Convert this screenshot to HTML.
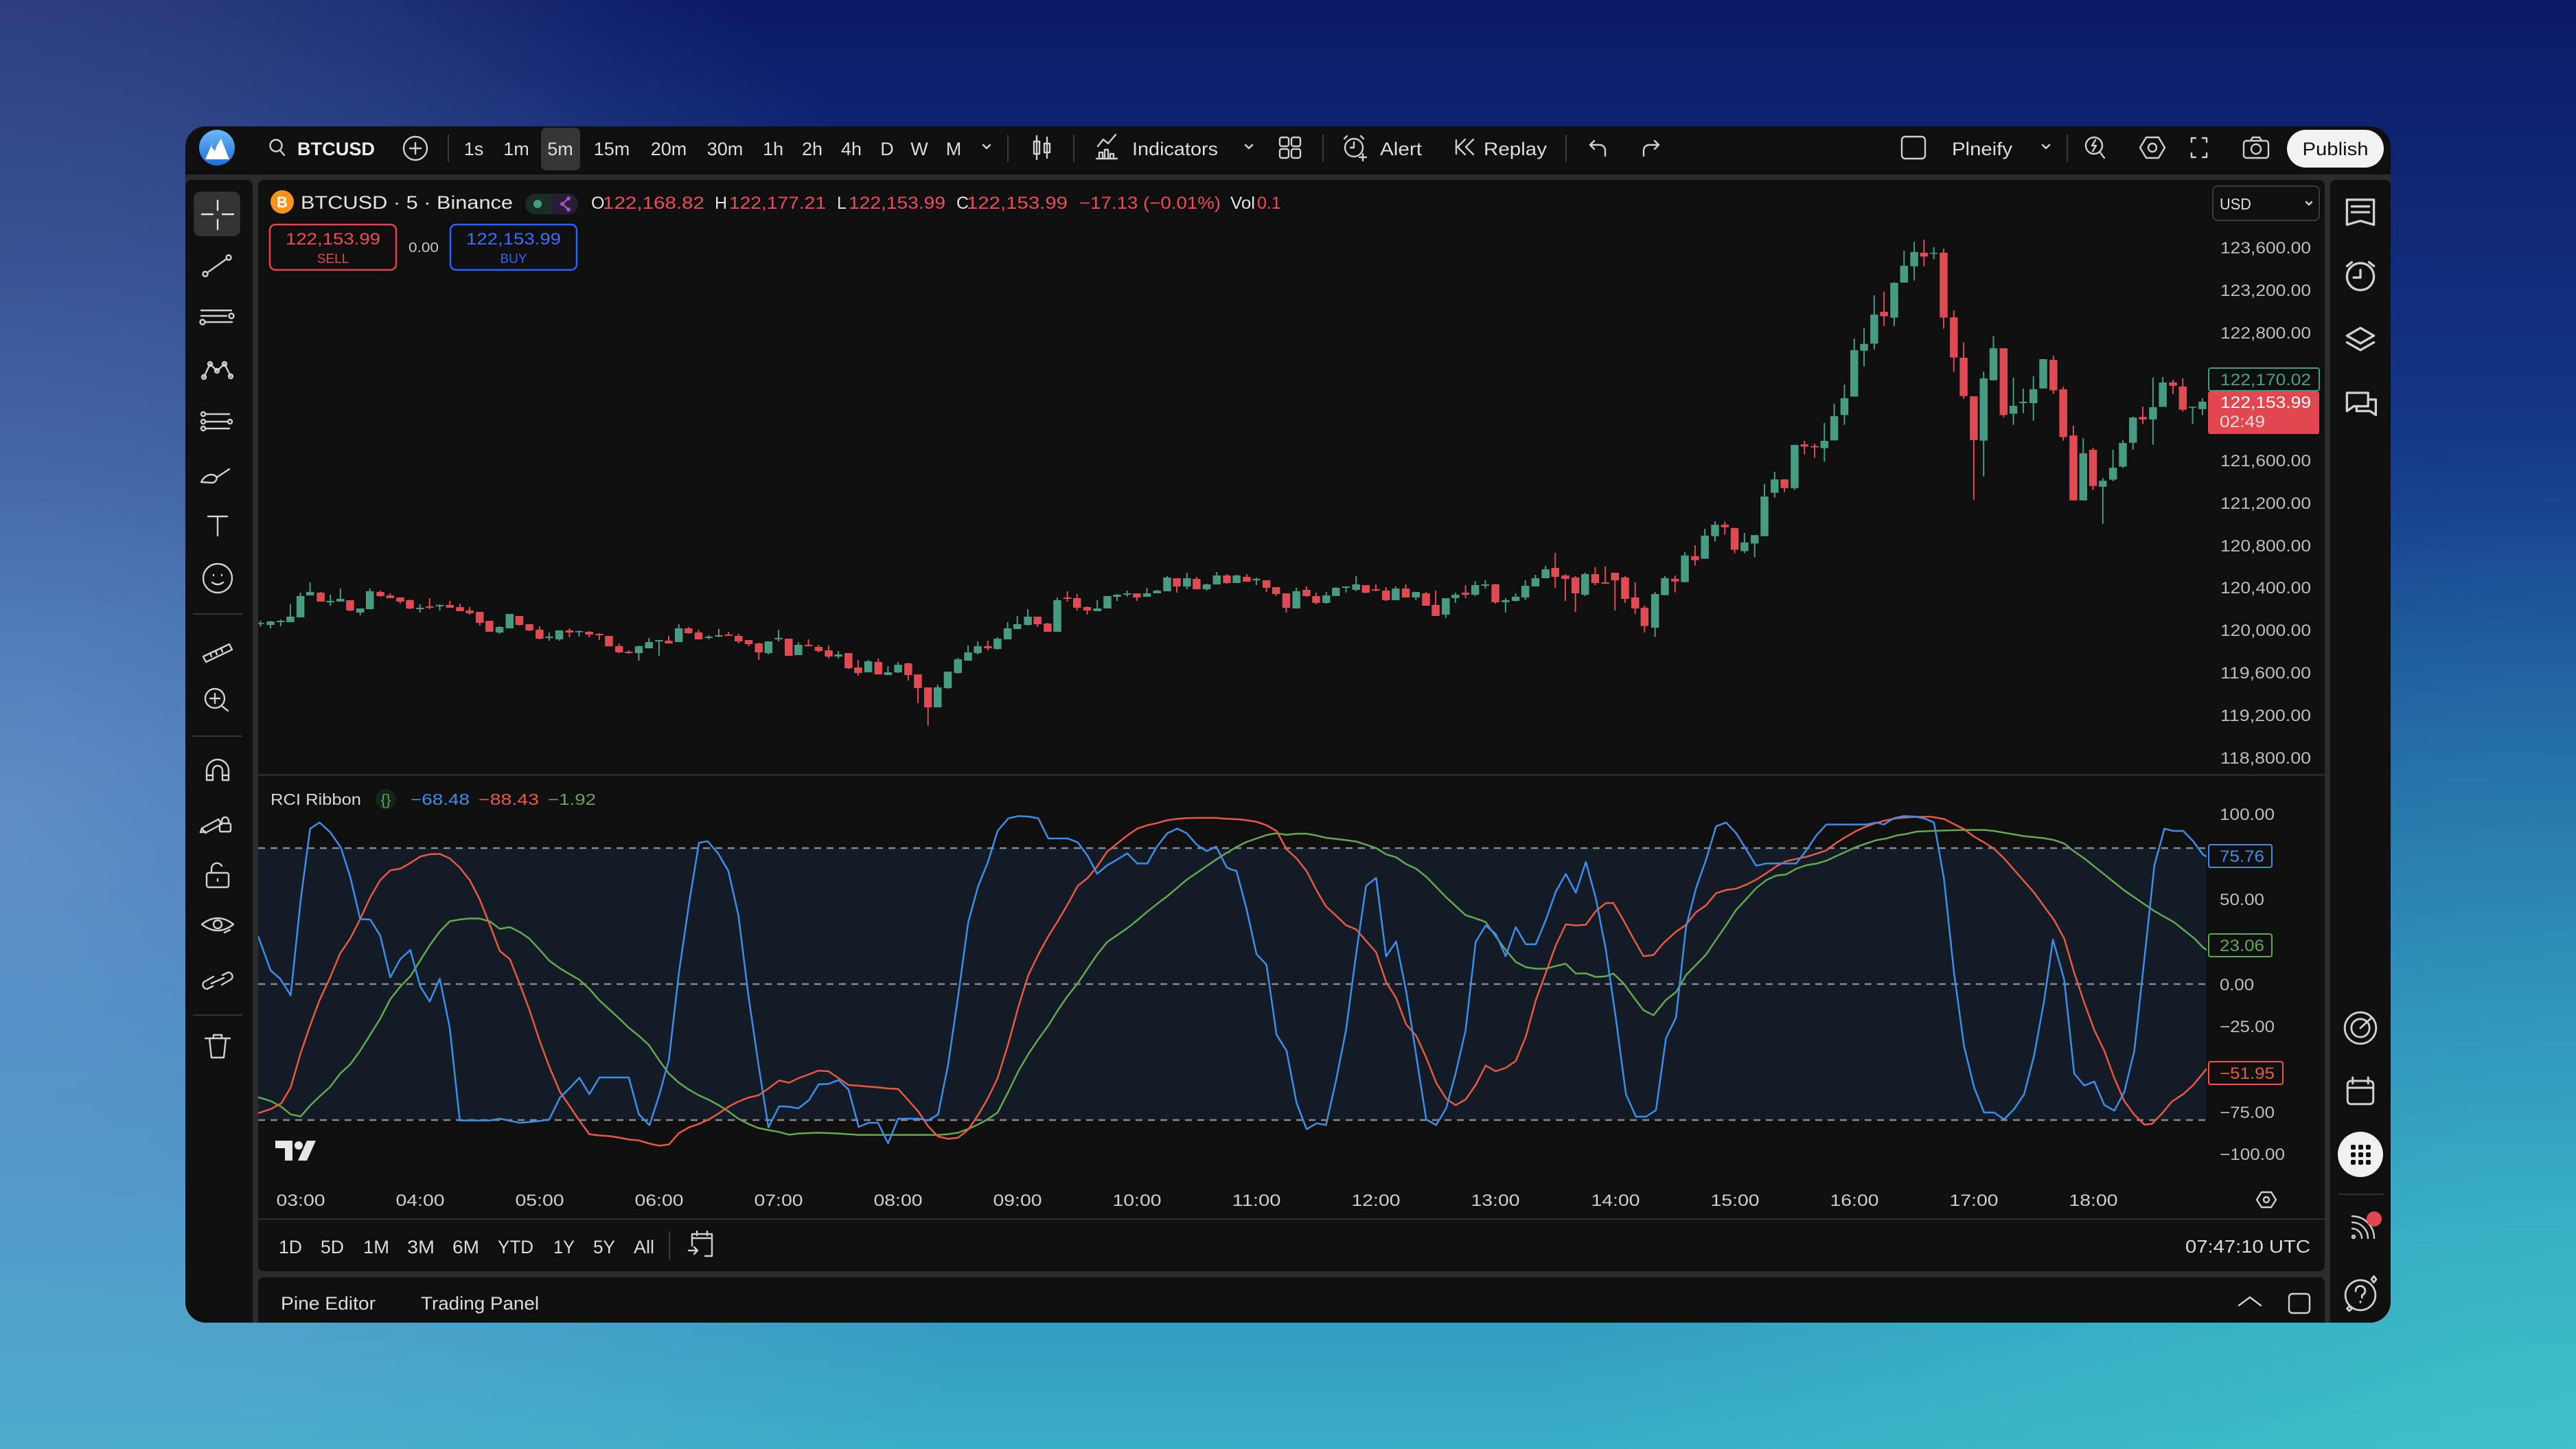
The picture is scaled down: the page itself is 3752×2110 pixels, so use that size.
<!DOCTYPE html>
<html><head><meta charset="utf-8"><style>
html,body{margin:0;padding:0;width:3752px;height:2110px;overflow:hidden;background:#1a3f8e;}
svg{display:block}
text{font-family:"Liberation Sans",sans-serif;}
.ic{fill:none;stroke:#d0d0d0;stroke-width:2.4;stroke-linecap:round;stroke-linejoin:round}
.ns{vector-effect:non-scaling-stroke;fill:none}
</style></head><body>
<svg width="3752" height="2110" viewBox="0 0 3752 2110" xmlns="http://www.w3.org/2000/svg">
<defs>
<linearGradient id="bg" x1="0" y1="0" x2="0" y2="1">
<stop offset="0" stop-color="#0b1a66"/><stop offset="0.35" stop-color="#163c8b"/><stop offset="0.7" stop-color="#2775b3"/><stop offset="1" stop-color="#39adc6"/>
</linearGradient>
<radialGradient id="bgl" cx="0" cy="1200" r="1600" gradientUnits="userSpaceOnUse"><stop offset="0" stop-color="#8aaee0" stop-opacity="0.6"/><stop offset="1" stop-color="#8aaee0" stop-opacity="0"/></radialGradient>
<radialGradient id="bgtl" cx="0" cy="0" r="900" gradientUnits="userSpaceOnUse"><stop offset="0" stop-color="#4a5a8c" stop-opacity="0.35"/><stop offset="1" stop-color="#4a5a8c" stop-opacity="0"/></radialGradient>
<radialGradient id="bgr" cx="3752" cy="2110" r="1500" gradientUnits="userSpaceOnUse"><stop offset="0" stop-color="#40cccb" stop-opacity="0.65"/><stop offset="1" stop-color="#40cccb" stop-opacity="0"/></radialGradient>
<linearGradient id="logo" x1="0" y1="0" x2="0" y2="1"><stop offset="0" stop-color="#6cb8f5"/><stop offset="1" stop-color="#1e6fd8"/></linearGradient>
<clipPath id="win"><rect x="270" y="184" width="3212" height="1742" rx="30"/></clipPath>
<clipPath id="plot"><rect x="376" y="262" width="2838" height="866"/></clipPath>
<clipPath id="iplot"><rect x="376" y="1130" width="2838" height="582"/></clipPath>
</defs>

<rect width="3752" height="2110" fill="url(#bg)"/>
<rect width="3752" height="2110" fill="url(#bgl)"/>
<rect width="3752" height="2110" fill="url(#bgtl)"/>
<rect width="3752" height="2110" fill="url(#bgr)"/>

<g clip-path="url(#win)">
<rect x="270" y="184" width="3212" height="1742" fill="#2c2c2c"/>
<rect x="270" y="184" width="3212" height="70" fill="#0f0f0f"/>
<rect x="270" y="262" width="98" height="1700" rx="8" fill="#0f0f0f"/>
<rect x="376" y="262" width="3010" height="1589" rx="8" fill="#0f0f0f"/>
<rect x="376" y="1860" width="3010" height="100" rx="8" fill="#0f0f0f"/>
<rect x="3394" y="262" width="88" height="1700" rx="8" fill="#0f0f0f"/>
</g>

<!-- TOP TOOLBAR -->
<circle cx="316" cy="215" r="26" fill="url(#logo)"/>
<polygon points="299,232 311,205 316,212 322,202 334,232" fill="#ffffff"/>
<polygon points="311,205 316,212 313,220 308,214" fill="#4a98e8"/>
<circle cx="402" cy="212" r="8.5" class="ic" stroke="#e6e6e6"/>
<path d="M408 219L414 226" class="ic" stroke="#e6e6e6"/>
<text x="433" y="226" font-size="27" font-weight="bold" fill="#ececec" textLength="113" lengthAdjust="spacingAndGlyphs">BTCUSD</text>
<circle cx="605" cy="216" r="17" class="ic"/>
<path d="M597 216h16M605 208v16" class="ic"/>
<g stroke="#3a3a3a" stroke-width="2">
<path d="M653 196v40M1468 196v40M1564 196v40M1927 196v40M2281 196v40M3011 196v40"/>
</g>
<rect x="788" y="186" width="57" height="62" rx="8" fill="#363636"/>
<g font-size="27" fill="#dcdcdc" text-anchor="middle">
<text x="690" y="226">1s</text><text x="752" y="226">1m</text><text x="816" y="226">5m</text>
<text x="891" y="226">15m</text><text x="974" y="226">20m</text><text x="1056" y="226">30m</text>
<text x="1126" y="226">1h</text><text x="1183" y="226">2h</text><text x="1240" y="226">4h</text>
<text x="1292" y="226">D</text><text x="1339" y="226">W</text><text x="1389" y="226">M</text>
</g>
<path d="M1432 211l5 5l5-5M1814 211l5 5l5-5M2975 211l5 5l5-5" class="ic"/>
<path d="M1510 198v34M1525 200v30" class="ic"/>
<rect x="1506" y="206" width="8" height="18" class="ic" fill="#0f0f0f"/>
<rect x="1521" y="209" width="8" height="13" class="ic" fill="#0f0f0f"/>
<path d="M1597 231h30M1601 231v-9h5v9M1609 231v-13h5v13M1617 231v-7h5v7M1599 213l8-10l7 6l11-13" class="ic"/>
<text x="1649" y="226" font-size="27" fill="#dcdcdc" textLength="125" lengthAdjust="spacingAndGlyphs">Indicators</text>
<rect x="1864" y="200" width="13" height="13" rx="3" class="ic"/><rect x="1881" y="200" width="13" height="13" rx="3" class="ic"/>
<rect x="1864" y="217" width="13" height="13" rx="3" class="ic"/><rect x="1881" y="217" width="13" height="13" rx="3" class="ic"/>
<circle cx="1972" cy="215" r="13" class="ic"/>
<path d="M1972 207v8h-5M1958 202l4-4M1986 202l-4-4M1985 224v10M1980 229h10" class="ic"/>
<text x="2010" y="226" font-size="27" fill="#dcdcdc" textLength="61" lengthAdjust="spacingAndGlyphs">Alert</text>
<path d="M2134 203l-11 11l11 11M2146 203l-11 11l11 11M2121 204v20" class="ic"/>
<text x="2161" y="226" font-size="27" fill="#dcdcdc" textLength="92" lengthAdjust="spacingAndGlyphs">Replay</text>
<path d="M2322 205l-6 6l6 6M2316 211h14a8 8 0 0 1 8 8v8" class="ic"/>
<path d="M2410 205l6 6l-6 6M2416 211h-14a8 8 0 0 0 -8 8v8" class="ic" stroke="#666"/>
<rect x="2770" y="199" width="34" height="32" rx="5" class="ic"/>
<text x="2843" y="226" font-size="27" fill="#dcdcdc" textLength="88" lengthAdjust="spacingAndGlyphs">Plneify</text>
<circle cx="3050" cy="212" r="12" class="ic"/><path d="M3058 221l7 9M3052 204l-5 8h6l-5 8" class="ic"/>
<polygon points="3126,200 3144,200 3153,215 3144,230 3126,230 3117,215" class="ic"/><circle cx="3135" cy="215" r="6" class="ic"/>
<path d="M3192 207v-6h6M3214 207v-6h-6M3192 223v6h6M3214 223v6h-6" class="ic"/>
<rect x="3268" y="205" width="36" height="25" rx="4" class="ic"/><path d="M3278 205l3-5h10l3 5" class="ic"/><circle cx="3286" cy="217" r="7" class="ic"/>
<rect x="3331" y="189" width="141" height="55" rx="27.5" fill="#f2f2f2"/>
<text x="3401.5" y="226" font-size="27" fill="#111" text-anchor="middle" textLength="96" lengthAdjust="spacingAndGlyphs">Publish</text>

<!-- LEFT TOOLBAR -->
<rect x="282" y="279" width="68" height="65" rx="10" fill="#333333"/>
<g class="ic">
<path d="M294 312h16M324 312h16M317 292v14M317 320v14" stroke="#e6e6e6"/>
<path d="M302 397L330 377"/><circle cx="299" cy="399" r="3.5"/><circle cx="333" cy="375" r="3.5"/>
<path d="M293 452h44M293 460h37M300 469h38"/><circle cx="337" cy="460" r="3.5"/><circle cx="295" cy="469" r="3.5"/>
<path d="M297 549L306 530L316 540L327 530L336 548"/><circle cx="297" cy="549" r="3"/><circle cx="306" cy="530" r="3"/><circle cx="316" cy="540" r="3"/><circle cx="327" cy="530" r="3"/><circle cx="336" cy="548" r="3"/>
<path d="M300 603h34M300 614h32M300 624h34"/><circle cx="296" cy="603" r="3"/><circle cx="296" cy="614" r="3"/><circle cx="296" cy="624" r="3"/><circle cx="335" cy="614" r="3"/>
<path d="M293 702c5-10 15-14 22-8c2 4-2 9-6 9zM316 695l18-12"/>
<path d="M303 752h28M317 752v28"/>
<circle cx="317" cy="842" r="21"/><path d="M309 848q8 6 16 0M311 837v1M323 837v1"/>
<path d="M296 956L334 938L338 946L300 964ZM306 951l2 5M314 948l2 5M322 944l2 5"/>
<circle cx="313" cy="1017" r="14"/><path d="M323 1028l9 7M306 1017h14M313 1010v14"/>
<path d="M301 1136v-14a16 16 0 0 1 32 0v14h-9v-14a7 7 0 0 0-14 0v14zM301 1129h9M324 1129h9"/>
<path d="M294 1206l24-13l5 7l-24 13zM294 1206l-2 6l7-1"/><rect x="320" y="1199" width="16" height="12" rx="2"/><path d="M323 1199v-4a5 5 0 0 1 10 0v4"/>
<rect x="301" y="1271" width="32" height="21" rx="3"/><path d="M308 1271v-6a8 8 0 0 1 15-4M317 1280v3"/>
<path d="M294 1346q23-18 46 0q-23 18-46 0z"/><circle cx="317" cy="1346" r="6"/><path d="M327 1358l8-4"/>
<path d="M310 1436l-8 4a6 6 0 0 1-5-10l14-8M324 1420l8-4a6 6 0 0 1 5 10l-14 8M308 1432l18-8"/>
<path d="M299 1512h36M305 1512l3 28h18l3-28M311 1512v-5h12v5"/>
</g>
<g stroke="#333" stroke-width="2"><path d="M281 894h72M281 1072h72M281 1478h72"/></g>

<!-- RIGHT SIDEBAR -->
<g class="ic">
<g transform="translate(3438 309) scale(1.4) translate(-3438 -309)"><path d="M3424 296h28v26l-14-4l-14 4z M3429 303h18M3429 309h18"/></g>
<g transform="translate(3438 400) scale(1.4) translate(-3438 -400)"><circle cx="3438" cy="402" r="14"/><path d="M3438 395v8h-7M3424 391l5-4M3452 391l-5-4"/></g>
<g transform="translate(3438 493) scale(1.4) translate(-3438 -493)"><path d="M3424 490l14-8l14 8l-14 8zM3424 497l14 8l14-8"/></g>
<g transform="translate(3438 586) scale(1.4) translate(-3438 -586)"><path d="M3424 576h22v14h-15l-7 5zM3448 583h6v16l-6-4h-14v-5"/></g>
<g transform="translate(3438 1497) scale(1.2) translate(-3438 -1497)"><circle cx="3438" cy="1497" r="19"/><circle cx="3438" cy="1497" r="11"/><path d="M3438 1497l13-12"/></g>
<g transform="translate(3438 1589) scale(1.25) translate(-3438 -1589)"><rect x="3423" y="1577" width="30" height="27" rx="4"/><path d="M3429 1573v7M3447 1573v7M3423 1585h30"/></g>
<path d="M3426 1789a14 14 0 0 1 14 14M3426 1780a23 23 0 0 1 23 23M3426 1771a32 32 0 0 1 32 32"/><circle cx="3428" cy="1801" r="2"/>
<g transform="translate(3438 1886) scale(1.15) translate(-3438 -1886)"><circle cx="3438" cy="1886" r="19"/><path d="M3432 1881a6 6 0 1 1 8 5v3M3438 1894v1M3452 1866l3-4l3 4l-3 4zM3421 1903l3-3l3 3l-3 3z"/></g>
</g>
<circle cx="3458" cy="1775" r="11" fill="#e0474f"/>
<path d="M3406 1739h66" stroke="#333" stroke-width="2"/>
<circle cx="3438" cy="1681" r="33" fill="#f0f0f0"/>
<g fill="#111"><rect x="3424" y="1667" width="7" height="7" rx="2"/><rect x="3435" y="1667" width="7" height="7" rx="2"/><rect x="3446" y="1667" width="7" height="7" rx="2"/>
<rect x="3424" y="1678" width="7" height="7" rx="2"/><rect x="3435" y="1678" width="7" height="7" rx="2"/><rect x="3446" y="1678" width="7" height="7" rx="2"/>
<rect x="3424" y="1689" width="7" height="7" rx="2"/><rect x="3435" y="1689" width="7" height="7" rx="2"/><rect x="3446" y="1689" width="7" height="7" rx="2"/></g>

<!-- CHART HEADER -->
<circle cx="411" cy="294" r="17" fill="#f7931a"/>
<text x="411" y="302" font-size="22" font-weight="bold" fill="#fff" text-anchor="middle">B</text>
<text x="438" y="304" font-size="27" fill="#e4e4e4" textLength="309" lengthAdjust="spacingAndGlyphs">BTCUSD · 5 · Binance</text>
<rect x="765" y="282" width="77" height="30" rx="15" fill="#1b2b26"/>
<path d="M803 282h24a15 15 0 0 1 0 30h-24z" fill="#2a1c33"/>
<circle cx="783" cy="297" r="6" fill="#3fa086"/>
<path d="M828 289l-9 8l9 8" stroke="#a052d0" stroke-width="2.5" fill="none"/><circle cx="828" cy="289" r="3" fill="#a052d0"/><circle cx="819" cy="297" r="3" fill="#a052d0"/><circle cx="828" cy="305" r="3" fill="#a052d0"/>
<g font-size="25">
<text x="861" y="304" fill="#e4e4e4">O</text><text x="878" y="304" fill="#ee4b55" textLength="148" lengthAdjust="spacingAndGlyphs">122,168.82</text>
<text x="1041" y="304" fill="#e4e4e4">H</text><text x="1062" y="304" fill="#ee4b55" textLength="141" lengthAdjust="spacingAndGlyphs">122,177.21</text>
<text x="1219" y="304" fill="#e4e4e4">L</text><text x="1236" y="304" fill="#ee4b55" textLength="141" lengthAdjust="spacingAndGlyphs">122,153.99</text>
<text x="1393" y="304" fill="#e4e4e4">C</text><text x="1408" y="304" fill="#ee4b55" textLength="147" lengthAdjust="spacingAndGlyphs">122,153.99</text>
<text x="1572" y="304" fill="#ee4b55" textLength="206" lengthAdjust="spacingAndGlyphs">−17.13 (−0.01%)</text>
<text x="1792" y="304" fill="#e4e4e4" textLength="36" lengthAdjust="spacingAndGlyphs">Vol</text><text x="1831" y="304" fill="#ee4b55">0.1</text>
</g>
<rect x="393" y="327" width="184" height="66" rx="8" fill="none" stroke="#e0474f" stroke-width="2.5"/>
<text x="485" y="356" font-size="24" fill="#ee4b55" text-anchor="middle" textLength="138" lengthAdjust="spacingAndGlyphs">122,153.99</text>
<text x="485" y="383" font-size="19" fill="#e0474f" text-anchor="middle">SELL</text>
<text x="595" y="367" font-size="20" fill="#c4c4c4" textLength="44" lengthAdjust="spacingAndGlyphs">0.00</text>
<rect x="656" y="327" width="184" height="66" rx="8" fill="none" stroke="#2962ff" stroke-width="2.5"/>
<text x="748" y="356" font-size="24" fill="#3d6dff" text-anchor="middle" textLength="138" lengthAdjust="spacingAndGlyphs">122,153.99</text>
<text x="748" y="383" font-size="19" fill="#2f62ff" text-anchor="middle">BUY</text>

<!-- PRICE AXIS -->
<rect x="3223" y="271" width="155" height="50" rx="7" fill="none" stroke="#3a3a3a" stroke-width="2"/>
<text x="3233" y="305" font-size="23" fill="#dcdcdc" textLength="46" lengthAdjust="spacingAndGlyphs">USD</text>
<path d="M3359 294l4 4l4-4" class="ic"/>
<g font-size="24" fill="#bdbdbd" text-anchor="end">
<text x="3366" y="369" textLength="132" lengthAdjust="spacingAndGlyphs">123,600.00</text>
<text x="3366" y="431" textLength="132" lengthAdjust="spacingAndGlyphs">123,200.00</text>
<text x="3366" y="493" textLength="132" lengthAdjust="spacingAndGlyphs">122,800.00</text>
<text x="3366" y="679" textLength="132" lengthAdjust="spacingAndGlyphs">121,600.00</text>
<text x="3366" y="741" textLength="132" lengthAdjust="spacingAndGlyphs">121,200.00</text>
<text x="3366" y="803" textLength="132" lengthAdjust="spacingAndGlyphs">120,800.00</text>
<text x="3366" y="864" textLength="132" lengthAdjust="spacingAndGlyphs">120,400.00</text>
<text x="3366" y="926" textLength="132" lengthAdjust="spacingAndGlyphs">120,000.00</text>
<text x="3366" y="988" textLength="132" lengthAdjust="spacingAndGlyphs">119,600.00</text>
<text x="3366" y="1050" textLength="132" lengthAdjust="spacingAndGlyphs">119,200.00</text>
<text x="3366" y="1112" textLength="132" lengthAdjust="spacingAndGlyphs">118,800.00</text>
</g>
<rect x="3217" y="536" width="161" height="33" rx="3" fill="#0f0f0f" stroke="#3f9c84" stroke-width="2"/>
<text x="3366" y="561" font-size="24" fill="#46a088" text-anchor="end" textLength="132" lengthAdjust="spacingAndGlyphs">122,170.02</text>
<rect x="3216" y="570" width="162" height="62" rx="3" fill="#e0474f"/>
<text x="3366" y="594" font-size="24" fill="#ffffff" text-anchor="end" textLength="132" lengthAdjust="spacingAndGlyphs">122,153.99</text>
<text x="3233" y="622" font-size="24" fill="#f4dada" textLength="66" lengthAdjust="spacingAndGlyphs">02:49</text>

<!-- pane separator -->
<rect x="376" y="1127" width="3010" height="3" fill="#2a2a2a"/>

<!-- CANDLES -->
<g clip-path="url(#plot)">
<g transform="translate(376 820) scale(0.66965 0.33333)">
<path class="ns" vector-effect="non-scaling-stroke" stroke="#469b82" stroke-width="2" d="M5 252V278M27 252V285M49 246V276M70 180V258M92 129V237M113 84V141M157 138V186M179 111V168M222 198V228M243 111V201M352 180V216M395 180V207M525 276V309M547 222V285M633 303V339M655 294V339M698 294V321M828 360V426M850 327V372M872 336V405M915 267V345M980 315V333M1002 288V324M1110 342V399M1132 291V342M1175 345V402M1262 384V417M1327 423V477M1370 450V489M1392 432V480M1478 531V630M1500 474V549M1522 414V483"/>
<path class="ns" vector-effect="non-scaling-stroke" stroke="#469b82" stroke-width="11.5" d="M5 261V266M27 255V270M49 252V258M70 234V258M92 144V237M113 126V141M157 165V171M179 156V168M222 198V216M243 123V201M352 195V201M395 183V189M525 279V303M547 222V285M633 321V327M655 294V333M698 297V302M828 363V393M850 345V372M872 336V342M915 285V345M980 321V327M1002 315V321M1110 342V393M1132 327V333M1175 357V402M1262 399V408M1327 429V477M1370 477V489M1392 444V477M1478 543V630M1500 474V546M1522 420V480"/>
<path class="ns" vector-effect="non-scaling-stroke" stroke="#e04a52" stroke-width="2" d="M136 126V168M200 162V210M266 120V147M287 132V153M309 150V177M330 159V201M373 153V201M417 165V195M439 177V210M460 192V225M482 213V273M503 252V300M568 231V273M590 267V297M612 276V333M677 285V324M720 297V324M742 306V336M763 318V363M785 351V393M806 381V396M893 318V351M936 279V309M958 291V333M1023 300V318M1045 309V351M1067 336V363M1089 348V423M1154 330V405M1197 333V363M1219 357V390M1241 360V417M1284 393V462M1305 423V492M1349 417V486M1414 435V513M1435 486V612M1457 543V711"/>
<path class="ns" vector-effect="non-scaling-stroke" stroke="#e04a52" stroke-width="11.5" d="M136 129V168M200 162V207M266 126V144M287 141V153M309 150V168M330 162V198M373 189V195M417 183V195M439 192V210M460 207V219M482 213V261M503 252V300M568 231V270M590 267V294M612 291V330M677 294V303M720 300V312M742 309V315M763 318V363M785 363V390M806 387V393M893 339V351M936 285V306M958 303V333M1023 312V318M1045 318V342M1067 336V354M1089 351V390M1154 330V405M1197 357V363M1219 366V384M1241 381V408M1284 393V459M1305 456V480M1349 432V486M1414 438V489M1435 486V546M1457 543V630"/>
</g>
<g transform="translate(1400 770) scale(0.66965 0.33333)">
<path class="ns" vector-effect="non-scaling-stroke" stroke="#469b82" stroke-width="2" d="M15 510V576M36 492V549M79 474V528M101 408V483M122 381V438M145 351V423M209 300V450M296 312V360M318 294V348M339 285V315M361 270V297M404 258V297M426 267V282M448 207V273M491 192V264M534 240V270M556 189V243M599 201V237M642 213V246M729 258V348M794 276V327M815 255V294M837 252V279M859 207V273M945 252V312M989 276V312M1054 303V390M1075 279V324M1118 228V294M1140 225V261M1184 303V366M1206 282V318M1227 225V312M1249 201V252M1271 162V216M1357 192V294"/>
<path class="ns" vector-effect="non-scaling-stroke" stroke="#469b82" stroke-width="11.5" d="M15 540V576M36 513V543M79 480V525M101 435V483M122 417V438M145 384V420M209 312V450M296 348V360M318 294V348M339 288V297M361 282V288M404 282V297M426 270V282M448 213V273M491 216V252M534 243V264M556 204V243M599 204V237M642 219V225M729 273V348M794 291V324M815 258V294M837 252V258M859 243V267M945 261V312M989 276V300M1054 303V375M1075 288V303M1118 246V288M1140 243V249M1184 312V321M1206 297V315M1227 249V300M1249 216V252M1271 177V216M1357 198V288"/>
<path class="ns" vector-effect="non-scaling-stroke" stroke="#e04a52" stroke-width="2" d="M58 489V531M166 384V429M188 411V450M231 273V318M252 285V357M274 339V375M382 282V315M469 216V279M512 210V264M578 198V240M621 198V231M664 225V276M685 255V294M707 282V366M751 252V297M772 279V330M880 246V282M902 243V273M924 255V315M967 243V300M1011 276V336M1032 270V381M1097 246V303M1162 240V327M1292 105V258M1314 198V315M1336 207V363M1379 168V246M1401 165V240M1422 192V357M1444 207V324M1466 234V372"/>
<path class="ns" vector-effect="non-scaling-stroke" stroke="#e04a52" stroke-width="11.5" d="M58 513V522M166 384V417M188 414V450M231 300V306M252 303V345M274 342V357M382 282V300M469 216V252M512 219V264M578 204V237M621 210V231M664 225V258M685 255V285M707 282V345M751 267V294M772 294V324M880 246V279M902 264V270M924 270V312M967 261V300M1011 282V336M1032 333V381M1097 279V288M1162 243V321M1292 171V210M1314 204V219M1336 213V282M1379 198V237M1401 234V240M1422 192V225M1444 213V306M1466 300V348"/>
</g>
<g transform="translate(2390 330) scale(0.52938 0.39541)">
<path class="ns" vector-effect="non-scaling-stroke" stroke="#469b82" stroke-width="2" d="M39 1345V1511M66 1287V1357M121 1199V1309M176 1113V1223M204 1085V1160M285 1128V1203M313 1136V1218M340 948V1140M368 903V998M423 804V970M505 723V866M532 652V787M560 582V730M587 412V626M614 374V515M642 253V452M697 205V366M724 89V206M752 56V199M806 76V120M943 534V920M970 402V566M1025 556V730M1052 597V687M1080 551V715M1107 488V596M1217 779V1008M1271 926V1094M1299 822V937M1326 787V889M1354 700V821M1409 556V803M1436 554V664M1518 663V727M1545 632V694"/>
<path class="ns" vector-effect="non-scaling-stroke" stroke="#469b82" stroke-width="11.5" d="M39 1353V1477M66 1295V1357M121 1211V1309M176 1138V1223M204 1098V1140M285 1163V1195M313 1136V1167M340 994V1140M368 931V980M423 804V963M505 789V816M532 698V787M560 632V694M587 455V626M614 432V457M642 324V431M697 207V335M724 144V206M752 94V146M806 96V100M943 559V788M970 448V566M1025 660V689M1052 645V650M1080 599V650M1107 488V596M1217 835V1008M1271 936V958M1299 888V932M1326 797V884M1354 703V796M1409 665V710M1436 574V664M1518 663V667M1545 645V672"/>
<path class="ns" vector-effect="non-scaling-stroke" stroke="#e04a52" stroke-width="2" d="M10 1396V1494M94 1285V1347M149 1173V1248M231 1087V1135M258 1110V1203M395 931V978M450 789V839M478 799V851M669 240V366M779 48V146M833 81V376M861 309V535M888 427V634M916 625V1006M998 448V702M1135 475V616M1162 589V788M1190 733V1008M1244 814V970M1381 663V727M1464 564V616M1491 559V681"/>
<path class="ns" vector-effect="non-scaling-stroke" stroke="#e04a52" stroke-width="11.5" d="M10 1404V1471M94 1297V1307M149 1214V1228M231 1098V1107M258 1110V1190M395 931V963M450 802V810M478 808V813M669 314V330M779 96V110M833 96V335M861 334V482M888 483V624M916 625V786M998 448V694M1135 491V603M1162 599V775M1190 769V1008M1244 822V955M1381 701V710M1464 574V586M1491 589V674"/>
</g>
</g>

<!-- INDICATOR PANE -->
<rect x="376" y="1235" width="2838" height="396" fill="#131c26"/>
<g stroke="#85888d" stroke-width="2.5" stroke-dasharray="10 8">
<path d="M376 1235H3214M376 1433H3214M376 1631H3214"/>
</g>
<g clip-path="url(#iplot)" stroke-linejoin="round">
<g transform="translate(376 1150) scale(0.91199 0.33333)">
<polyline class="ns" vector-effect="non-scaling-stroke" stroke="#63a94f" stroke-width="2.5" points="0,1343 20,1360 37,1385 52,1418 68,1427 83,1380 98,1340 115,1298 131,1240 147,1200 163,1140 179,1070 195,1000 211,915 227,860 243,815 259,745 274,680 290,620 306,575 322,567 338,562 354,563 370,575 386,608 402,600 418,622 433,650 450,700 465,747 482,780 497,805 513,830 529,870 545,920 561,960 577,1000 592,1040 608,1075 624,1115 640,1180 656,1240 672,1280 688,1310 704,1335 720,1355 735,1377 751,1405 767,1437 783,1460 799,1478 815,1487 832,1495 848,1507 863,1502 895,1498 927,1502 959,1508 1086,1508 1102,1505 1118,1498 1134,1482 1150,1462 1165,1440 1181,1410 1198,1320 1214,1230 1230,1155 1246,1090 1262,1030 1278,960 1293,900 1309,845 1325,780 1340,720 1356,665 1372,635 1388,605 1404,570 1420,533 1435,500 1452,465 1468,428 1483,393 1499,363 1515,333 1530,305 1547,275 1552,272"/>
<polyline class="ns" vector-effect="non-scaling-stroke" stroke="#eb5840" stroke-width="2.5" points="0,1413 20,1395 37,1370 52,1300 68,1150 83,1030 98,920 115,820 131,715 147,650 163,565 179,470 195,395 211,352 227,345 243,320 259,292 274,282 290,280 306,300 322,340 338,395 354,480 370,590 386,705 402,740 418,850 433,960 450,1100 465,1210 482,1320 497,1380 513,1445 529,1505 545,1510 561,1513 577,1520 592,1528 608,1532 624,1545 640,1555 656,1550 672,1500 688,1475 704,1460 720,1440 735,1415 751,1385 767,1362 783,1345 799,1335 815,1305 832,1270 848,1280 863,1260 880,1243 895,1227 911,1230 927,1260 943,1290 959,1293 975,1297 990,1300 1006,1305 1022,1307 1038,1355 1054,1405 1070,1470 1086,1515 1102,1525 1118,1520 1134,1485 1150,1420 1165,1350 1181,1260 1198,1110 1214,950 1230,810 1246,720 1262,640 1278,570 1293,500 1309,420 1325,385 1340,335 1356,270 1372,235 1388,200 1404,170 1420,155 1435,146 1452,133 1468,127 1483,124 1499,123 1530,123 1547,127 1552,127"/>
<polyline class="ns" vector-effect="non-scaling-stroke" stroke="#3d8ee8" stroke-width="2.5" points="0,640 20,790 35,825 52,898 68,480 83,170 98,143 115,185 132,252 147,380 163,565 179,567 195,637 211,820 227,740 243,700 259,860 274,925 290,825 306,1040 322,1445 370,1445 386,1437 418,1455 450,1447 465,1440 482,1345 497,1305 513,1258 529,1330 545,1257 592,1257 608,1418 625,1465 641,1330 656,1180 672,800 688,500 704,232 718,225 735,280 751,355 767,548 783,900 799,1200 815,1475 832,1383 848,1385 863,1392 880,1355 895,1287 911,1285 927,1268 943,1310 959,1473 975,1455 990,1455 1006,1545 1022,1437 1054,1437 1070,1445 1086,1418 1102,1200 1118,900 1134,580 1150,420 1165,320 1181,180 1198,125 1214,115 1230,117 1246,125 1262,213 1293,213 1309,230 1325,290 1340,367 1356,330 1372,305 1388,278 1404,322 1420,322 1435,250 1452,190 1468,170 1483,190 1499,240 1515,268 1530,248 1547,340 1552,344"/>
</g>
<g transform="translate(1790 1150) scale(0.91199 0.33333)">
<polyline class="ns" vector-effect="non-scaling-stroke" stroke="#63a94f" stroke-width="2.5" points="0,270 12,250 28,228 44,213 60,198 76,190 92,197 108,192 124,192 140,200 155,210 171,215 187,220 203,226 219,240 235,255 251,282 267,295 283,325 299,345 315,380 331,425 347,470 362,508 378,548 394,562 410,578 426,640 442,700 458,752 474,775 490,782 506,782 522,770 538,760 554,803 570,802 586,818 602,815 614,803 630,845 646,905 662,963 678,985 698,918 714,884 730,810 746,765 762,720 778,655 794,592 810,525 826,478 842,430 858,395 874,375 890,370 906,345 922,330 938,323 954,310 970,290 986,270 1002,250 1018,235 1034,220 1050,213 1066,200 1082,193 1098,183 1122,180 1142,178 1174,176 1206,176 1222,180 1238,188 1254,195 1270,203 1286,207 1302,212 1318,220 1334,235 1350,270 1366,300 1382,335 1398,370 1414,405 1430,440 1446,470 1462,500 1478,530 1494,555 1510,580 1526,615 1542,650 1556,690 1562,700"/>
<polyline class="ns" vector-effect="non-scaling-stroke" stroke="#eb5840" stroke-width="2.5" points="0,127 20,130 44,140 60,155 76,180 92,260 108,300 124,355 140,440 155,510 171,550 187,592 203,610 219,660 235,710 251,840 267,910 283,1025 299,1075 315,1170 331,1280 347,1350 362,1378 378,1353 394,1290 410,1205 426,1230 442,1215 458,1185 474,1080 490,920 506,800 522,680 538,588 554,593 570,590 586,530 602,495 614,495 630,570 646,650 662,727 678,722 694,670 714,620 730,590 746,535 762,505 778,452 794,438 810,432 826,415 842,393 858,365 874,335 890,312 906,302 922,293 938,280 954,265 970,232 986,205 1002,180 1018,160 1034,145 1050,133 1066,125 1082,121 1098,118 1122,118 1142,128 1158,150 1174,172 1190,205 1206,230 1222,258 1238,300 1254,350 1270,400 1286,450 1302,510 1318,570 1334,650 1350,800 1366,930 1382,1050 1398,1140 1414,1260 1430,1360 1446,1420 1462,1463 1474,1460 1490,1415 1506,1362 1524,1330 1540,1290 1556,1237 1562,1218"/>
<polyline class="ns" vector-effect="non-scaling-stroke" stroke="#3d8ee8" stroke-width="2.5" points="0,345 12,355 28,520 44,718 60,765 76,1070 92,1140 108,1368 124,1483 140,1457 155,1465 171,1270 187,1050 203,720 219,420 235,385 251,728 267,663 283,880 299,1160 315,1440 331,1465 347,1390 362,1240 378,1050 394,665 410,593 426,630 442,727 458,600 474,675 490,675 506,570 522,445 538,368 554,450 570,315 586,475 602,700 618,1000 634,1330 650,1428 666,1428 682,1400 698,1085 714,995 730,600 746,430 762,305 778,160 794,143 810,190 826,260 842,332 858,322 906,322 922,265 938,200 954,152 1018,152 1034,143 1046,152 1062,124 1078,115 1094,117 1110,125 1126,143 1142,390 1158,800 1174,1120 1190,1300 1206,1410 1222,1410 1238,1440 1254,1395 1270,1330 1286,1160 1302,920 1316,655 1334,830 1350,1240 1366,1292 1382,1275 1398,1377 1414,1402 1430,1320 1446,1140 1462,740 1478,330 1494,170 1508,180 1524,180 1540,225 1556,285 1562,292"/>
</g>
</g>

<!-- indicator header -->
<text x="394" y="1172" font-size="23" fill="#d8d8d8" textLength="132" lengthAdjust="spacingAndGlyphs">RCI Ribbon</text>
<circle cx="562" cy="1164" r="15" fill="#15241a"/>
<text x="562" y="1172" font-size="22" fill="#5aa84c" text-anchor="middle">{}</text>
<text x="598" y="1172" font-size="23" fill="#3d8ee8" textLength="86" lengthAdjust="spacingAndGlyphs">−68.48</text>
<text x="697" y="1172" font-size="23" fill="#eb5840" textLength="88" lengthAdjust="spacingAndGlyphs">−88.43</text>
<text x="798" y="1172" font-size="23" fill="#63a94f" textLength="70" lengthAdjust="spacingAndGlyphs">−1.92</text>

<!-- indicator axis -->
<g font-size="24" fill="#bdbdbd">
<text x="3233" y="1194" textLength="80" lengthAdjust="spacingAndGlyphs">100.00</text>
<text x="3233" y="1318" textLength="65" lengthAdjust="spacingAndGlyphs">50.00</text>
<text x="3233" y="1442" textLength="50" lengthAdjust="spacingAndGlyphs">0.00</text>
<text x="3233" y="1503" textLength="80" lengthAdjust="spacingAndGlyphs">−25.00</text>
<text x="3233" y="1628" textLength="80" lengthAdjust="spacingAndGlyphs">−75.00</text>
<text x="3233" y="1689" textLength="95" lengthAdjust="spacingAndGlyphs">−100.00</text>
</g>
<rect x="3217" y="1230" width="92" height="33" rx="3" fill="#0f0f0f" stroke="#3d8ee8" stroke-width="2"/>
<text x="3233" y="1255" font-size="24" fill="#3d8ee8" textLength="65" lengthAdjust="spacingAndGlyphs">75.76</text>
<rect x="3217" y="1360" width="92" height="33" rx="3" fill="#0f0f0f" stroke="#63a94f" stroke-width="2"/>
<text x="3233" y="1385" font-size="24" fill="#63a94f" textLength="65" lengthAdjust="spacingAndGlyphs">23.06</text>
<rect x="3217" y="1546" width="108" height="33" rx="3" fill="#0f0f0f" stroke="#eb5840" stroke-width="2"/>
<text x="3233" y="1571" font-size="24" fill="#eb5840" textLength="80" lengthAdjust="spacingAndGlyphs">−51.95</text>

<!-- TV logo -->
<g fill="#e6e6e6">
<path d="M401 1661h25v29h-11v-18h-14z"/>
<circle cx="435" cy="1668" r="6"/>
<polygon points="447,1661 460,1661 447,1690 434,1690"/>
</g>

<!-- TIME AXIS -->
<g font-size="24" fill="#cfcfcf" text-anchor="middle">
<text x="438" y="1756" textLength="71" lengthAdjust="spacingAndGlyphs">03:00</text>
<text x="612" y="1756" textLength="71" lengthAdjust="spacingAndGlyphs">04:00</text>
<text x="786" y="1756" textLength="71" lengthAdjust="spacingAndGlyphs">05:00</text>
<text x="960" y="1756" textLength="71" lengthAdjust="spacingAndGlyphs">06:00</text>
<text x="1134" y="1756" textLength="71" lengthAdjust="spacingAndGlyphs">07:00</text>
<text x="1308" y="1756" textLength="71" lengthAdjust="spacingAndGlyphs">08:00</text>
<text x="1482" y="1756" textLength="71" lengthAdjust="spacingAndGlyphs">09:00</text>
<text x="1656" y="1756" textLength="71" lengthAdjust="spacingAndGlyphs">10:00</text>
<text x="1830" y="1756" textLength="71" lengthAdjust="spacingAndGlyphs">11:00</text>
<text x="2004" y="1756" textLength="71" lengthAdjust="spacingAndGlyphs">12:00</text>
<text x="2178" y="1756" textLength="71" lengthAdjust="spacingAndGlyphs">13:00</text>
<text x="2353" y="1756" textLength="71" lengthAdjust="spacingAndGlyphs">14:00</text>
<text x="2527" y="1756" textLength="71" lengthAdjust="spacingAndGlyphs">15:00</text>
<text x="2701" y="1756" textLength="71" lengthAdjust="spacingAndGlyphs">16:00</text>
<text x="2875" y="1756" textLength="71" lengthAdjust="spacingAndGlyphs">17:00</text>
<text x="3049" y="1756" textLength="71" lengthAdjust="spacingAndGlyphs">18:00</text>
</g>
<polygon points="3294,1736 3308,1736 3315,1747 3308,1758 3294,1758 3287,1747" class="ic"/><circle cx="3301" cy="1747" r="4" class="ic"/>
<rect x="376" y="1774" width="3010" height="2.5" fill="#2c2c2c"/>

<!-- RANGE BAR -->
<g font-size="27" fill="#dcdcdc">
<text x="406" y="1825" textLength="34" lengthAdjust="spacingAndGlyphs">1D</text>
<text x="467" y="1825" textLength="34" lengthAdjust="spacingAndGlyphs">5D</text>
<text x="529" y="1825" textLength="38" lengthAdjust="spacingAndGlyphs">1M</text>
<text x="593" y="1825" textLength="40" lengthAdjust="spacingAndGlyphs">3M</text>
<text x="659" y="1825" textLength="39" lengthAdjust="spacingAndGlyphs">6M</text>
<text x="725" y="1825" textLength="52" lengthAdjust="spacingAndGlyphs">YTD</text>
<text x="806" y="1825" textLength="31" lengthAdjust="spacingAndGlyphs">1Y</text>
<text x="864" y="1825" textLength="32" lengthAdjust="spacingAndGlyphs">5Y</text>
<text x="923" y="1825" textLength="30" lengthAdjust="spacingAndGlyphs">All</text>
</g>
<path d="M975 1793v42" stroke="#3a3a3a" stroke-width="2"/>
<path d="M1008 1814v-17h29v32h-10M1008 1803h29M1015 1793v6M1030 1793v6M1003 1821h13M1011 1816l5 5l-5 5" class="ic"/>
<text x="3365" y="1824" font-size="26" fill="#dcdcdc" text-anchor="end" textLength="182" lengthAdjust="spacingAndGlyphs">07:47:10 UTC</text>

<!-- BOTTOM PANEL -->
<text x="409" y="1907" font-size="27" fill="#dcdcdc" textLength="138" lengthAdjust="spacingAndGlyphs">Pine Editor</text>
<text x="613" y="1907" font-size="27" fill="#dcdcdc" textLength="172" lengthAdjust="spacingAndGlyphs">Trading Panel</text>
<path d="M3261 1901l16-12l16 12" class="ic"/>
<rect x="3334" y="1884" width="30" height="28" rx="5" class="ic"/>
</svg>
</body></html>
